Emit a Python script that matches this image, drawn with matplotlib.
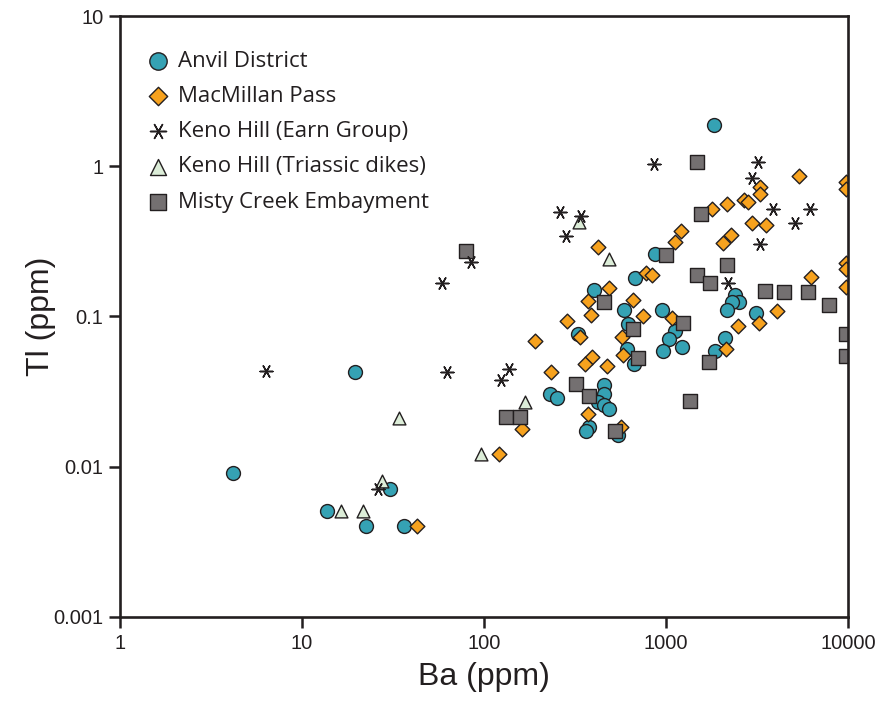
import matplotlib
matplotlib.use("Agg")
import matplotlib.pyplot as plt
from matplotlib.ticker import FixedLocator, FixedFormatter, NullLocator

# --- Ba (ppm) and Tl (ppm) by locality ---
anvil_ba = [1836, 869, 675, 404, 589, 948, 615, 327, 1127, 1041, 1231, 965, 611, 668,
            232, 252, 457, 455, 421, 455, 484, 378, 365, 546, 2393, 2518, 2314, 2155,
            3133, 2099, 1866, 19.6, 4.18, 30.4, 13.8, 22.5, 36.3]
anvil_tl = [1.89, 0.259, 0.181, 0.150, 0.110, 0.110, 0.0898, 0.077, 0.0798, 0.0713,
            0.0628, 0.0587, 0.0612, 0.0486, 0.0307, 0.0287, 0.0348, 0.0307, 0.027,
            0.0259, 0.0244, 0.0184, 0.0172, 0.0163, 0.140, 0.124, 0.124, 0.110, 0.106,
            0.072, 0.0587, 0.0428, 0.0091, 0.00706, 0.00507, 0.00402, 0.00402]

macmillan_ba = [5370, 9700, 9700, 3280, 3300, 1798, 2160, 2675, 2815, 2958, 3532, 2266,
                2047, 1120, 1205, 780, 843, 424, 488, 371, 661, 389, 750, 1079, 285, 338,
                573, 190, 578, 392, 361, 474, 234, 375, 565, 162, 121, 43.1, 6270, 4084,
                3265, 2482, 2127, 9700, 9700, 9700]
macmillan_tl = [0.867, 0.79, 0.71, 0.732, 0.656, 0.519, 0.558, 0.596, 0.580, 0.417,
                0.406, 0.348, 0.307, 0.311, 0.369, 0.196, 0.190, 0.291, 0.155, 0.126,
                0.128, 0.103, 0.101, 0.097, 0.093, 0.073, 0.073, 0.0689, 0.0552, 0.0539,
                0.0486, 0.047, 0.0428, 0.0226, 0.0184, 0.0179, 0.0122, 0.00402, 0.182,
                0.109, 0.091, 0.0865, 0.0608, 0.226, 0.207, 0.158]

keno_earn_ba = [6.36, 58.9, 84.6, 63, 136.5, 124.5, 26, 262, 341, 284, 861, 3200, 2960,
                3880, 6210, 5140, 3280, 2187]
keno_earn_tl = [0.0435, 0.168, 0.231, 0.0425, 0.0447, 0.0376, 0.00706, 0.499, 0.469,
                0.345, 1.036, 1.075, 0.841, 0.519, 0.519, 0.419, 0.302, 0.168]

keno_tri_ba = [334, 488, 169, 34.1, 96.7, 27.4, 16.3, 21.7]
keno_tri_tl = [0.423, 0.241, 0.027, 0.0211, 0.0122, 0.00798, 0.00506, 0.00506]

misty_ba = [80, 1475, 998, 1553, 2155, 1475, 1746, 458, 1239, 655, 3486, 4434, 6010,
            7840, 9700, 9700, 1722, 698, 320, 379, 1354, 132.5, 157, 526]
misty_tl = [0.272, 1.06, 0.256, 0.481, 0.220, 0.190, 0.166, 0.124, 0.091, 0.082, 0.148,
            0.145, 0.145, 0.120, 0.077, 0.055, 0.0499, 0.053, 0.0357, 0.0296, 0.0272,
            0.0214, 0.0214, 0.0172]

x_ticks = [1, 10, 100, 1000, 10000]
x_tick_labels = ["1", "10", "100", "1000", "10000"]
y_ticks = [0.001, 0.01, 0.1, 1, 10]
y_tick_labels = ["0.001", "0.01", "0.1", "1", "10"]

ink = "#231F20"
asterisk = (6, 2, 30)  # six-armed star with a vertical arm

fig = plt.figure(figsize=(8.79, 7.02), dpi=100)
ax = fig.add_axes([0.1365, 0.1211, 0.8282, 0.8561])
ax.set_xscale("log")
ax.set_yscale("log")
ax.set_xlim(1, 10000)
ax.set_ylim(0.001, 10)

h_anvil = ax.scatter(anvil_ba, anvil_tl, s=100, marker="o", facecolor="#35A2B4",
                     edgecolor=ink, linewidth=1.0, zorder=2)
h_mac = ax.scatter(macmillan_ba, macmillan_tl, s=56, marker="D", facecolor="#F7A21E",
                   edgecolor=ink, linewidth=1.0, zorder=3)
h_tri = ax.scatter(keno_tri_ba, keno_tri_tl, s=85, marker="^", facecolor="#DCEDD8",
                   edgecolor=ink, linewidth=1.0, zorder=4)
h_misty = ax.scatter(misty_ba, misty_tl, s=90, marker="s", facecolor="#747071",
                     edgecolor=ink, linewidth=1.0, zorder=5)
h_earn = ax.scatter(keno_earn_ba, keno_earn_tl, s=85, marker=asterisk, color=ink,
                    linewidth=1.1, zorder=6)

for side in ["left", "right", "top", "bottom"]:
    ax.spines[side].set_linewidth(1.9)
    ax.spines[side].set_color(ink)
    ax.spines[side].set_zorder(10)

ax.xaxis.set_major_locator(FixedLocator(x_ticks))
ax.xaxis.set_major_formatter(FixedFormatter(x_tick_labels))
ax.yaxis.set_major_locator(FixedLocator(y_ticks))
ax.yaxis.set_major_formatter(FixedFormatter(y_tick_labels))
ax.xaxis.set_minor_locator(NullLocator())
ax.yaxis.set_minor_locator(NullLocator())
ax.tick_params(axis="both", which="major", direction="out", length=8, width=1.8,
               color=ink, labelsize=14.5, labelcolor=ink, pad=4)
for lab in ax.get_xticklabels() + ax.get_yticklabels():
    lab.set_fontfamily("Liberation Sans")

ax.set_xlabel("Ba (ppm)", fontsize=23, family="Liberation Sans", color=ink, labelpad=7)
ax.set_ylabel("Tl (ppm)", fontsize=23, family="Liberation Sans", color=ink, labelpad=-2)

leg = ax.legend([h_anvil, h_mac, h_earn, h_tri, h_misty],
                ["Anvil District", "MacMillan Pass", "Keno Hill (Earn Group)",
                 "Keno Hill (Triassic dikes)", "Misty Creek Embayment"],
                loc="upper left", bbox_to_anchor=(0.025, 0.957), frameon=False,
                prop={"family": "Open Sans", "size": 16}, labelspacing=0.64,
                handlelength=1.0, handletextpad=0.4, borderaxespad=0.0,
                scatterpoints=1, markerscale=1.25)
for t in leg.get_texts():
    t.set_color(ink)

fig.savefig("out.png", dpi=100)
